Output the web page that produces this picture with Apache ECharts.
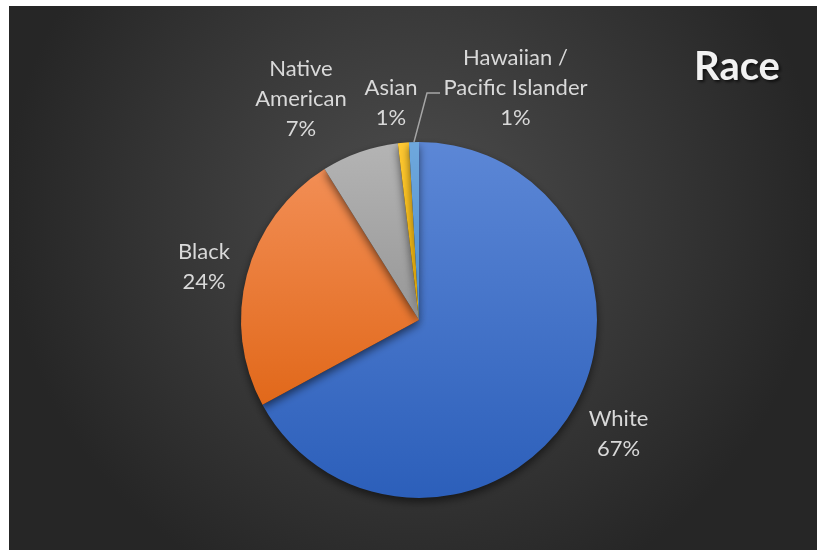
<!DOCTYPE html>
<html><head><meta charset="utf-8">
<script src="https://cdn.jsdelivr.net/npm/echarts@6/dist/echarts.min.js"></script>
<style>
html,body{margin:0;padding:0;background:#ffffff;width:817px;height:550px;overflow:hidden}
#c{position:absolute;left:9px;top:6px;width:808px;height:544px}
</style></head>
<body><div id="c"></div>
<script>
const categories = ['White', 'Black', 'Native American', 'Asian', 'Hawaiian / Pacific Islander'];
const labelNames = ['White', 'Black', 'Native\nAmerican', 'Asian', 'Hawaiian /\nPacific Islander'];
const values = [67.1, 24.0, 7.0, 1.0, 0.9];
const titleText = 'Race';
const colorsTop = ['#5c87d6', '#f28e55', '#b4b4b4', '#ffc933', '#6fa8dd'];
const colorsBottom = ['#2c5fba', '#e1681a', '#979797', '#f2b300', '#4d8dcb'];

const chart = echarts.init(document.getElementById('c'), null, {renderer: 'canvas'});

function grad(i) {
  return {type: 'linear', x: 0, y: 0, x2: 0, y2: 1,
    colorStops: [{offset: 0, color: colorsTop[i]}, {offset: 1, color: colorsBottom[i]}]};
}

const data = categories.map((name, i) => ({
  name: name,
  value: values[i],
  itemStyle: {color: grad(i)},
  labelLine: {show: i === 4}
}));

chart.setOption({
  backgroundColor: {
    type: 'radial', x: 0.5, y: 0.38, r: 0.75,
    colorStops: [{offset: 0, color: '#4d4d4d'}, {offset: 1, color: '#262626'}]
  },
  title: {
    text: titleText,
    left: 680, top: 36,
    textStyle: {
      fontFamily: 'Lato', fontWeight: 'bold', fontSize: 40, color: '#f2f2f2',
      textShadowColor: 'rgba(0,0,0,0.65)', textShadowBlur: 3,
      textShadowOffsetX: 2, textShadowOffsetY: 2
    }
  },
  series: [{
    type: 'pie',
    center: [410, 314],
    radius: 178,
    startAngle: 90,
    clockwise: true,
    avoidLabelOverlap: false,
    animation: false,
    itemStyle: {
      borderWidth: 0,
      shadowColor: 'rgba(0,0,0,0.55)', shadowBlur: 8, shadowOffsetY: 4
    },
    label: {
      show: true,
      position: 'outside',
      fontFamily: 'Lato',
      fontSize: 22,
      lineHeight: 30,
      color: '#d9d9d9',
      formatter: p => labelNames[p.dataIndex] + '\n' + Math.round(p.percent) + '%'
    },
    labelLine: {
      lineStyle: {color: '#a6a6a6', width: 1.5}
    },
    labelLayout: function (params) {
      const pos = [[609.5, 428], [195, 260.5], [292, 92.5], [382, 97], [506.5, 81.7]][params.dataIndex];
      const out = {x: pos[0], y: pos[1], align: 'center', verticalAlign: 'middle'};
      if (params.dataIndex === 4 && params.labelLinePoints) {
        out.labelLinePoints = [params.labelLinePoints[0], [418, 87], [431, 87]];
      }
      return out;
    },
    data: data
  }]
});
</script>
</body></html>
